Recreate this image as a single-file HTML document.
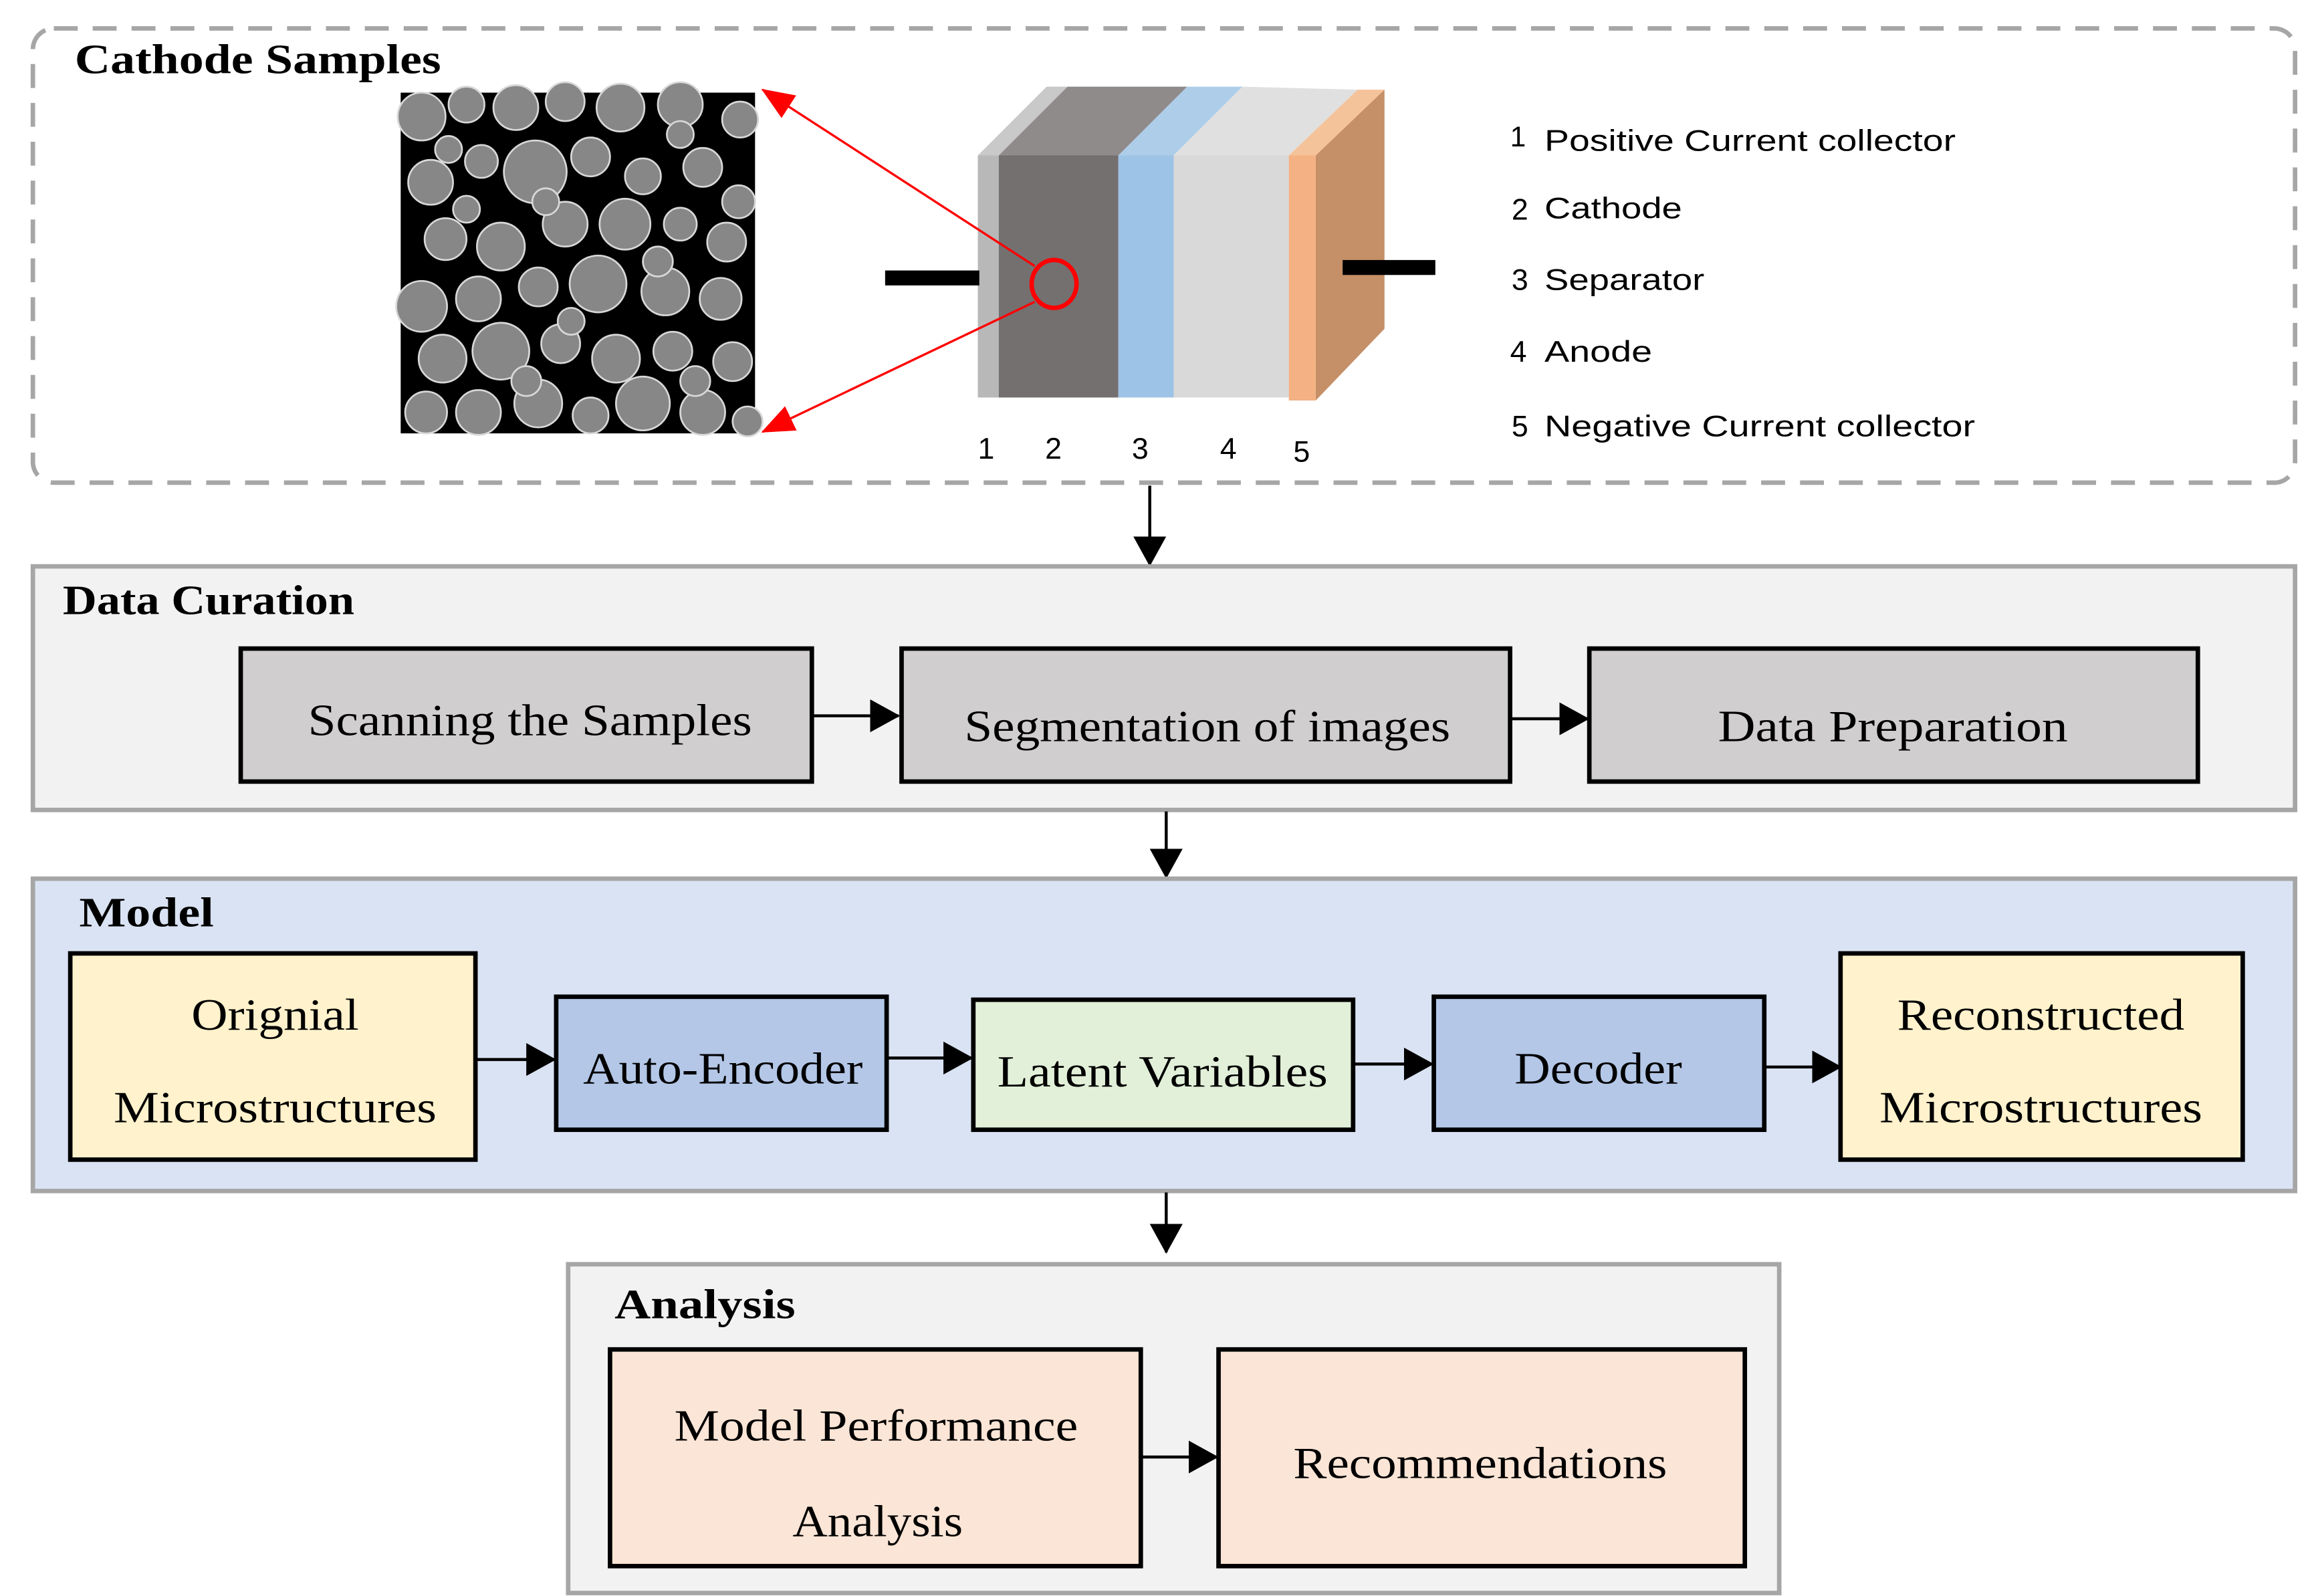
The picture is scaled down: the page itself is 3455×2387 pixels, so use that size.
<!DOCTYPE html>
<html><head><meta charset="utf-8"><style>html,body{margin:0;padding:0;background:#fff}svg{display:block}</style></head>
<body>
<svg width="3455" height="2387" viewBox="0 0 1545 1068" preserveAspectRatio="none" xmlns="http://www.w3.org/2000/svg">
<defs>
<marker id="ah" markerWidth="20" markerHeight="22" refX="19" refY="11" orient="auto" markerUnits="userSpaceOnUse"><path d="M0,0 L20,11 L0,22 z" fill="#000"/></marker>
<marker id="ra" markerWidth="22" markerHeight="18" refX="21" refY="9" orient="auto" markerUnits="userSpaceOnUse"><path d="M0,0 L22,9 L0,18 z" fill="#f00"/></marker>
</defs>
<g font-family="Liberation Serif, serif">
<!-- Cathode samples -->
<rect x="22" y="19" width="1513" height="304" rx="14" fill="#fff" stroke="#a6a6a6" stroke-width="3" stroke-dasharray="16,10"/>
<text x="50" y="49" font-size="28" font-weight="bold" textLength="245" lengthAdjust="spacingAndGlyphs">Cathode Samples</text>
<!-- micrograph -->
<rect x="268" y="62" width="237" height="228" fill="#000"/>
<g fill="#878787" stroke="#d8d8d8" stroke-width="1.2">
<circle cx="282" cy="78" r="16"/><circle cx="312" cy="70" r="12"/><circle cx="345" cy="72" r="15"/><circle cx="378" cy="68" r="13"/><circle cx="415" cy="72" r="16"/><circle cx="455" cy="70" r="15"/><circle cx="495" cy="80" r="12"/>
<circle cx="288" cy="122" r="15"/><circle cx="322" cy="108" r="11"/><circle cx="358" cy="115" r="21"/><circle cx="395" cy="105" r="13"/><circle cx="430" cy="118" r="12"/><circle cx="470" cy="112" r="13"/><circle cx="494" cy="135" r="11"/>
<circle cx="298" cy="160" r="14"/><circle cx="335" cy="165" r="16"/><circle cx="378" cy="150" r="15"/><circle cx="418" cy="150" r="17"/><circle cx="455" cy="150" r="11"/><circle cx="486" cy="162" r="13"/>
<circle cx="282" cy="205" r="17"/><circle cx="320" cy="200" r="15"/><circle cx="360" cy="192" r="13"/><circle cx="400" cy="190" r="19"/><circle cx="445" cy="195" r="16"/><circle cx="482" cy="200" r="14"/>
<circle cx="296" cy="240" r="16"/><circle cx="335" cy="235" r="19"/><circle cx="375" cy="230" r="13"/><circle cx="412" cy="240" r="16"/><circle cx="450" cy="235" r="13"/><circle cx="490" cy="242" r="13"/>
<circle cx="285" cy="276" r="14"/><circle cx="320" cy="276" r="15"/><circle cx="360" cy="270" r="16"/><circle cx="395" cy="278" r="12"/><circle cx="430" cy="270" r="18"/><circle cx="470" cy="276" r="15"/><circle cx="500" cy="282" r="10"/>
<circle cx="312" cy="140" r="9"/><circle cx="365" cy="135" r="9"/><circle cx="440" cy="175" r="10"/><circle cx="382" cy="215" r="9"/><circle cx="352" cy="255" r="10"/><circle cx="465" cy="255" r="10"/><circle cx="455" cy="90" r="9"/><circle cx="300" cy="100" r="9"/>
</g>
<!-- battery -->
<polygon points="654,104 668,104 714,58 700,58" fill="#c9c9c9"/>
<polygon points="668,104 748,104 794,58 714,58" fill="#8f8b8a"/>
<polygon points="748,104 785,104 831,58 794,58" fill="#aecde9"/>
<polygon points="785,104 862,104 908,60 831,58" fill="#e0e0e0"/>
<polygon points="862,104 880,104 926,60 908,60" fill="#f5c39a"/>
<polygon points="880,104 926,60 926,220 880,268" fill="#c58f67"/>
<rect x="654" y="104" width="14" height="162" fill="#b8b8b8"/>
<rect x="668" y="104" width="80" height="162" fill="#747070"/>
<rect x="748" y="104" width="37" height="162" fill="#9dc3e6"/>
<rect x="785" y="104" width="77" height="162" fill="#d9d9d9"/>
<rect x="862" y="104" width="18" height="164" fill="#f4b183"/>
<rect x="592" y="181" width="63" height="10" fill="#000"/>
<rect x="898" y="174" width="62" height="10" fill="#000"/>
<line x1="692" y1="178" x2="510" y2="60" stroke="#f00" stroke-width="1.5" marker-end="url(#ra)"/>
<line x1="692" y1="202" x2="510" y2="289" stroke="#f00" stroke-width="1.5" marker-end="url(#ra)"/>
<ellipse cx="705" cy="190" rx="15" ry="16" fill="none" stroke="#f00" stroke-width="3"/>
<g font-family="Liberation Sans, sans-serif" font-size="20" fill="#000">
<text x="654" y="307">1</text><text x="699" y="307">2</text><text x="757" y="307">3</text><text x="816" y="307">4</text><text x="865" y="309">5</text>
<text x="1010" y="98" font-size="19">1</text>
<text x="1033" y="101" textLength="275" lengthAdjust="spacingAndGlyphs">Positive Current collector</text>
<text x="1011" y="147">2</text><text x="1033" y="146" textLength="92" lengthAdjust="spacingAndGlyphs">Cathode</text>
<text x="1011" y="194">3</text><text x="1033" y="194" textLength="107" lengthAdjust="spacingAndGlyphs">Separator</text>
<text x="1010" y="242">4</text><text x="1033" y="242" textLength="72" lengthAdjust="spacingAndGlyphs">Anode</text>
<text x="1011" y="292">5</text><text x="1033" y="292" textLength="288" lengthAdjust="spacingAndGlyphs">Negative Current collector</text>
</g>
<line x1="769" y1="325" x2="769" y2="378" stroke="#000" stroke-width="2" marker-end="url(#ah)"/>
<!-- Data curation -->
<rect x="22" y="379" width="1513" height="163" fill="#f2f2f2" stroke="#a6a6a6" stroke-width="3"/>
<text x="42" y="411" font-size="28" font-weight="bold" textLength="195" lengthAdjust="spacingAndGlyphs">Data Curation</text>
<g stroke="#000" stroke-width="3" fill="#d0cece">
<rect x="161" y="434" width="382" height="89"/><rect x="603" y="434" width="407" height="89"/><rect x="1063" y="434" width="407" height="89"/>
</g>
<g font-size="30">
<text x="206" y="492" textLength="297" lengthAdjust="spacingAndGlyphs">Scanning the Samples</text>
<text x="645" y="496" textLength="325" lengthAdjust="spacingAndGlyphs">Segmentation of images</text>
<text x="1149" y="496" textLength="234" lengthAdjust="spacingAndGlyphs">Data Preparation</text>
</g>
<g stroke="#000" stroke-width="2" marker-end="url(#ah)">
<line x1="543" y1="479" x2="601" y2="479"/><line x1="1010" y1="481" x2="1062" y2="481"/>
<line x1="780" y1="543" x2="780" y2="587"/>
</g>
<!-- Model -->
<rect x="22" y="588" width="1513" height="209" fill="#dae3f3" stroke="#a6a6a6" stroke-width="3"/>
<text x="53" y="620" font-size="28" font-weight="bold" textLength="90" lengthAdjust="spacingAndGlyphs">Model</text>
<g stroke="#000" stroke-width="3">
<rect x="47" y="638" width="271" height="138" fill="#fff2cc"/>
<rect x="372" y="667" width="221" height="89" fill="#b4c7e7"/>
<rect x="651" y="669" width="254" height="87" fill="#e2f0d9"/>
<rect x="959" y="667" width="221" height="89" fill="#b4c7e7"/>
<rect x="1231" y="638" width="269" height="138" fill="#fff2cc"/>
</g>
<g font-size="30">
<text x="128" y="689" textLength="112" lengthAdjust="spacingAndGlyphs">Orignial</text>
<text x="76" y="751" textLength="216" lengthAdjust="spacingAndGlyphs">Microstructures</text>
<text x="390" y="725" textLength="187" lengthAdjust="spacingAndGlyphs">Auto-Encoder</text>
<text x="667" y="727" textLength="221" lengthAdjust="spacingAndGlyphs">Latent Variables</text>
<text x="1013" y="725" textLength="112" lengthAdjust="spacingAndGlyphs">Decoder</text>
<text x="1269" y="689" textLength="192" lengthAdjust="spacingAndGlyphs">Reconstructed</text>
<text x="1257" y="751" textLength="216" lengthAdjust="spacingAndGlyphs">Microstructures</text>
</g>
<g stroke="#000" stroke-width="2" marker-end="url(#ah)">
<line x1="318" y1="709" x2="371" y2="709"/><line x1="593" y1="708" x2="650" y2="708"/>
<line x1="905" y1="712" x2="958" y2="712"/><line x1="1180" y1="714" x2="1231" y2="714"/>
<line x1="780" y1="798" x2="780" y2="838"/>
</g>
<!-- Analysis -->
<rect x="380" y="846" width="810" height="220" fill="#f2f2f2" stroke="#a6a6a6" stroke-width="3"/>
<text x="411" y="882" font-size="28" font-weight="bold" textLength="121" lengthAdjust="spacingAndGlyphs">Analysis</text>
<g stroke="#000" stroke-width="3" fill="#fbe5d6">
<rect x="408" y="903" width="355" height="145"/><rect x="815" y="903" width="352" height="145"/>
</g>
<g font-size="30">
<text x="451" y="964" textLength="270" lengthAdjust="spacingAndGlyphs">Model Performance</text>
<text x="530" y="1028" textLength="114" lengthAdjust="spacingAndGlyphs">Analysis</text>
<text x="865" y="989" textLength="250" lengthAdjust="spacingAndGlyphs">Recommendations</text>
</g>
<line x1="763" y1="975" x2="814" y2="975" stroke="#000" stroke-width="2" marker-end="url(#ah)"/>
</g>
</svg>
</body></html>
